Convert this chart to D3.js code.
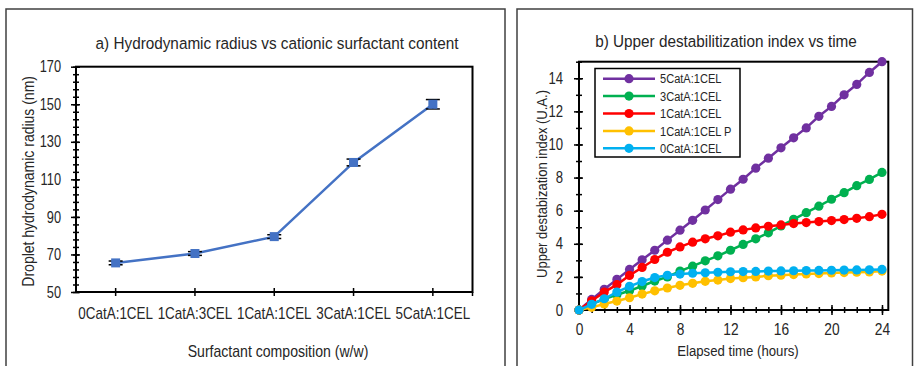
<!DOCTYPE html>
<html><head><meta charset="utf-8">
<script src="https://cdn.jsdelivr.net/npm/d3@7/dist/d3.min.js"></script>
<style>
body{margin:0;background:#fff;}
text{font-family:"Liberation Sans Narrow","Arial Narrow","Liberation Sans",Arial,sans-serif;fill:#262626;}
</style></head>
<body><svg id="c" width="915" height="366"></svg>
<script>
// ---- Panel a data ----
const categories = ["0CatA:1CEL","1CatA:3CEL","1CatA:1CEL","3CatA:1CEL","5CatA:1CEL"];
const radius = [65.5, 70.5, 79.5, 119, 150];
const radiusErr = [1, 1, 1, 1.8, 2.5];
const radiusTicks = [50, 70, 90, 110, 130, 150, 170];

// ---- Panel b data ----
const hours = [0,1,2,3,4,5,6,7,8,9,10,11,12,13,14,15,16,17,18,19,20,21,22,23,24];
const s5CatA = [0,0.64,1.25,1.85,2.45,3.03,3.61,4.22,4.82,5.42,6.04,6.67,7.3,7.9,8.57,9.17,9.8,10.4,11.0,11.7,12.3,13.0,13.63,14.35,15.0];
const s3CatA = [0,0.36,0.66,0.92,1.16,1.45,1.75,2.0,2.35,2.65,2.97,3.27,3.61,3.96,4.3,4.66,5.08,5.48,5.88,6.27,6.69,7.09,7.51,7.89,8.31];
const s1CatA = [0,0.56,1.08,1.53,2.09,2.57,3.05,3.49,3.81,4.1,4.3,4.48,4.7,4.84,4.96,5.06,5.14,5.22,5.28,5.34,5.4,5.46,5.54,5.64,5.78];
const s1CatAP = [0,0.16,0.36,0.54,0.74,0.96,1.16,1.33,1.49,1.61,1.73,1.81,1.9,1.95,2.0,2.07,2.1,2.14,2.18,2.2,2.24,2.26,2.28,2.3,2.35];
const s0CatA = [0,0.34,0.68,1.08,1.43,1.72,1.96,2.1,2.17,2.22,2.25,2.28,2.31,2.32,2.33,2.35,2.36,2.37,2.38,2.39,2.4,2.41,2.42,2.43,2.45];
const seriesNames = ["5CatA:1CEL","3CatA:1CEL","1CatA:1CEL","1CatA:1CEL P","0CatA:1CEL"];
const seriesColors = ["#7030A0","#00B050","#FF0000","#FFC000","#00B0F0"];
const seriesValues = [s5CatA, s3CatA, s1CatA, s1CatAP, s0CatA];
const timeTicks = [0,4,8,12,16,20,24];
const udiTicks = [0,2,4,6,8,10,12,14];

const svg = d3.select("#c");
// horizontally condense text (reference font is narrow): scale along the text direction
function condense(sel, f){
  sel.each(function(){
    const x = +this.getAttribute("x") || 0;
    const t = this.getAttribute("transform") || "";
    this.setAttribute("x", 0);
    this.setAttribute("transform", `${t} translate(${x},0) scale(${f},1)`);
  });
}

// panel frames
svg.append("rect").attr("x",6).attr("y",9).attr("width",499).attr("height",370)
  .attr("fill","none").attr("stroke","#404040").attr("stroke-width",1.5);
svg.append("rect").attr("x",517).attr("y",9).attr("width",395.5).attr("height",370)
  .attr("fill","none").attr("stroke","#404040").attr("stroke-width",1.5);

// ================= Panel a =================
{
  const L=76, R=472.5, T=66.7, B=292;
  const x = d3.scaleBand().domain(categories).range([L,R]);
  const y = d3.scaleLinear().domain([50,170]).range([B,T]);
  const g = svg.append("g");
  g.append("g").attr("transform",`translate(${L},0)`)
    .call(d3.axisLeft(y).tickValues(d3.range(50,171,4)).tickSize(3).tickSizeOuter(0).tickFormat(""))
    .call(a=>a.select(".domain").remove())
    .call(a=>a.selectAll("line").attr("x2",-3).attr("x1",3).attr("stroke","#000").attr("stroke-width",1.5));
  g.append("g").attr("transform",`translate(${L},0)`)
    .call(d3.axisLeft(y).tickValues(radiusTicks).tickSize(5).tickSizeOuter(0).tickPadding(10))
    .call(a=>a.select(".domain").remove())
    .call(a=>a.selectAll("line").attr("x1",4).attr("x2",-5).attr("stroke","#000").attr("stroke-width",1.5))
    .call(a=>a.selectAll("text").attr("font-size",16).style("font-family",null).call(condense,0.8));
  g.append("g").attr("transform",`translate(0,${B})`)
    .call(d3.axisBottom(x).tickSize(4).tickSizeOuter(0).tickPadding(12))
    .call(a=>a.select(".domain").remove())
    .call(a=>a.selectAll("line").attr("y1",-4).attr("y2",4).attr("stroke","#000").attr("stroke-width",1.5))
    .call(a=>a.selectAll("text").attr("font-size",16).style("font-family",null).call(condense,0.84));
  g.append("line").attr("x1",R).attr("x2",R).attr("y1",B).attr("y2",B+4).attr("stroke","#000").attr("stroke-width",1.5);
  g.append("rect").attr("x",L).attr("y",T).attr("width",R-L).attr("height",B-T)
    .attr("fill","none").attr("stroke","#000").attr("stroke-width",2);
  const cx = c=>x(c)+x.bandwidth()/2;
  g.append("path").datum(radius)
    .attr("d", d3.line().x((d,i)=>cx(categories[i])).y(d=>y(d)))
    .attr("fill","none").attr("stroke","#4472C4").attr("stroke-width",2.5);
  categories.forEach((c,i)=>{
    const xx=cx(c), y1=y(radius[i]+radiusErr[i]), y2=y(radius[i]-radiusErr[i]);
    g.append("line").attr("x1",xx).attr("x2",xx).attr("y1",y1).attr("y2",y2).attr("stroke","#000").attr("stroke-width",1.5);
    [y1,y2].forEach(yy=>g.append("line").attr("x1",xx-7).attr("x2",xx+7).attr("y1",yy).attr("y2",yy).attr("stroke","#000").attr("stroke-width",1.5));
  });
  g.selectAll("rect.m").data(radius).enter().append("rect").attr("class","m")
    .attr("x",(d,i)=>cx(categories[i])-4.5).attr("y",d=>y(d)-4.5)
    .attr("width",9).attr("height",9).attr("fill","#4472C4");
  svg.append("text").attr("x",277).attr("y",49).attr("text-anchor","middle")
    .attr("font-size",17).text("a) Hydrodynamic radius vs cationic surfactant content").call(condense,0.9);
  svg.append("text").attr("x",278).attr("y",357).attr("text-anchor","middle")
    .attr("font-size",16).text("Surfactant composition (w/w)").call(condense,0.88);
  svg.append("text").attr("transform",`translate(34,${(T+B)/2+2}) rotate(-90)`).attr("text-anchor","middle")
    .attr("font-size",16).text("Droplet hydrodynamic radius (nm)").call(condense,0.875);
}

// ================= Panel b =================
{
  const L=579, R=888.3, T=61.7, B=310;
  const x = d3.scaleLinear().domain([0,24.5]).range([L,R]);
  const y = d3.scaleLinear().domain([0,15]).range([B,T]);
  const g = svg.append("g");
  g.append("g").attr("transform",`translate(${L},0)`)
    .call(d3.axisLeft(y).tickValues(d3.range(0,16,1)).tickFormat("").tickSizeOuter(0))
    .call(a=>a.select(".domain").remove())
    .call(a=>a.selectAll("line").attr("x1",3).attr("x2",-3).attr("stroke","#000").attr("stroke-width",1.5));
  g.append("g").attr("transform",`translate(${L},0)`)
    .call(d3.axisLeft(y).tickValues(udiTicks).tickSizeOuter(0).tickPadding(10))
    .call(a=>a.select(".domain").remove())
    .call(a=>a.selectAll("line").attr("x1",4).attr("x2",-5).attr("stroke","#000").attr("stroke-width",1.5))
    .call(a=>a.selectAll("text").attr("font-size",16).style("font-family",null).call(condense,0.82));
  g.append("g").attr("transform",`translate(0,${B})`)
    .call(d3.axisBottom(x).tickValues(d3.range(0,25,1)).tickFormat("").tickSizeOuter(0))
    .call(a=>a.select(".domain").remove())
    .call(a=>a.selectAll("line").attr("y1",-3).attr("y2",3).attr("stroke","#000").attr("stroke-width",1.5));
  g.append("g").attr("transform",`translate(0,${B})`)
    .call(d3.axisBottom(x).tickValues(timeTicks).tickSizeOuter(0).tickPadding(8))
    .call(a=>a.select(".domain").remove())
    .call(a=>a.selectAll("line").attr("y1",-5).attr("y2",5).attr("stroke","#000").attr("stroke-width",1.5))
    .call(a=>a.selectAll("text").attr("font-size",16).style("font-family",null).call(condense,0.86));
  g.append("rect").attr("x",L).attr("y",T).attr("width",R-L).attr("height",B-T)
    .attr("fill","none").attr("stroke","#000").attr("stroke-width",2);
  const line = d3.line().x((d,i)=>x(hours[i])).y(d=>y(d));
  seriesValues.forEach((vals,k)=>{
    const sg = g.append("g");
    sg.append("path").datum(vals).attr("d",line).attr("fill","none")
      .attr("stroke",seriesColors[k]).attr("stroke-width",2.5);
    sg.selectAll("circle").data(vals).enter().append("circle")
      .attr("cx",(d,i)=>x(hours[i])).attr("cy",d=>y(d)).attr("r",4.6).attr("fill",seriesColors[k]);
  });
  const lg = svg.append("g");
  lg.append("rect").attr("x",595).attr("y",68.5).attr("width",145).attr("height",88.5)
    .attr("fill","#fff").attr("stroke","#000").attr("stroke-width",1.5);
  seriesNames.forEach((n,k)=>{
    const yy = 78.7 + k*17.4;
    lg.append("line").attr("x1",603).attr("x2",655).attr("y1",yy).attr("y2",yy)
      .attr("stroke",seriesColors[k]).attr("stroke-width",2.5);
    lg.append("circle").attr("cx",629).attr("cy",yy).attr("r",4.6).attr("fill",seriesColors[k]);
    lg.append("text").attr("x",660).attr("y",yy).attr("dy","0.35em").attr("font-size",13.5).text(n).call(condense,0.82);
  });
  svg.append("text").attr("x",726).attr("y",47).attr("text-anchor","middle")
    .attr("font-size",17).text("b) Upper destabilitization index vs time").call(condense,0.9);
  svg.append("text").attr("x",738).attr("y",356).attr("text-anchor","middle")
    .attr("font-size",15.5).text("Elapsed time (hours)").call(condense,0.85);
  svg.append("text").attr("transform",`translate(547,184) rotate(-90)`).attr("text-anchor","middle")
    .attr("font-size",15.5).text("Upper destabization index (U.A.)").call(condense,0.84);
}
</script></body></html>
